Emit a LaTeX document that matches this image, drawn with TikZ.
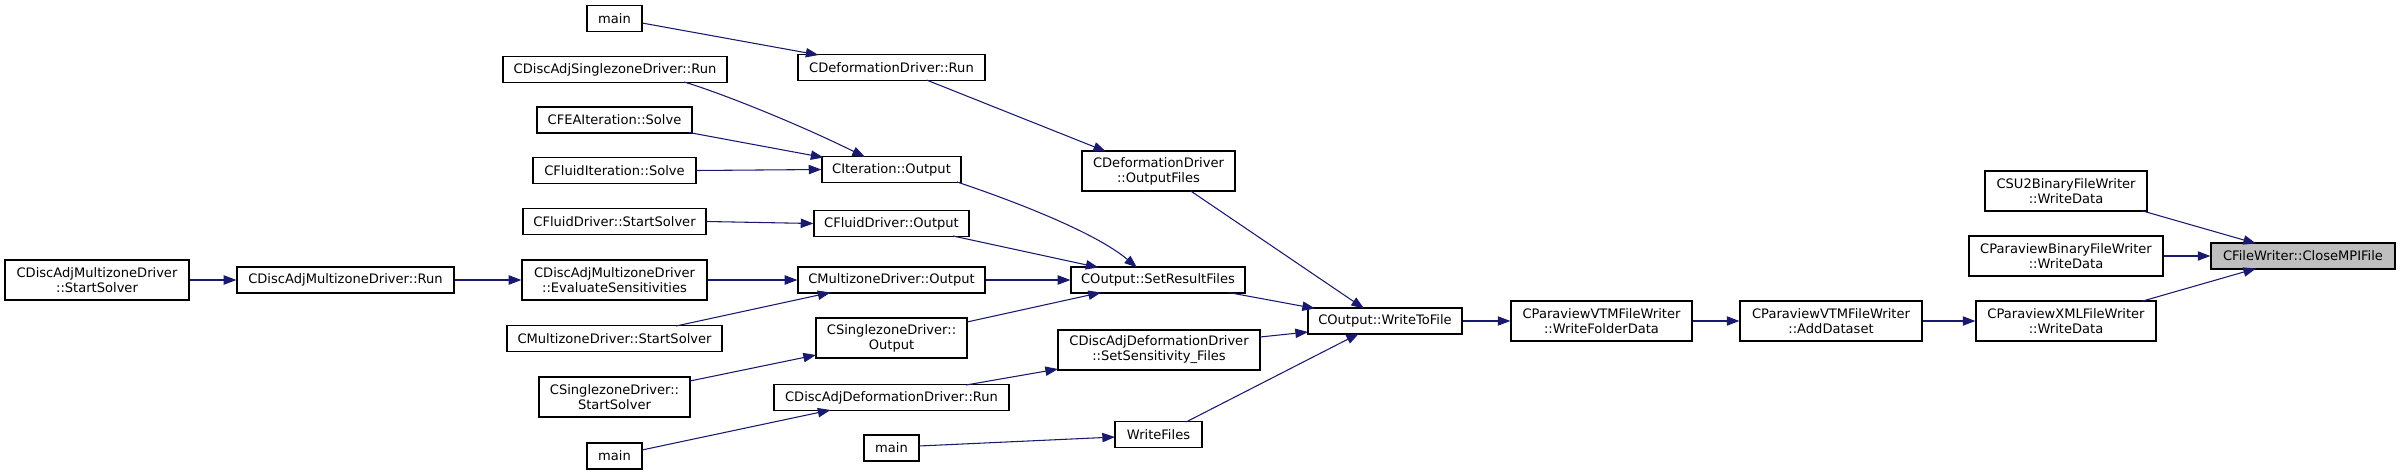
\documentclass[tikz,border=0pt]{standalone}
\usepackage{fontspec}
\setmainfont{DejaVu Sans}
\usetikzlibrary{arrows.meta,calc}
\definecolor{edgecol}{HTML}{191970}
\definecolor{curfill}{HTML}{BFBFBF}
\begin{document}
\begin{tikzpicture}[x=0.75pt,y=-0.75pt,
  box/.style={draw=black,line width=0.9pt,fill=white,inner sep=0pt,align=center,
    font=\fontsize{9.8pt}{11.25pt}\selectfont},
  one/.style={box,minimum height=26*0.75pt},
  two/.style={box,minimum height=40*0.75pt},
  cur/.style={one,fill=curfill},
  edge/.style={draw=edgecol,line width=0.8pt,-{Triangle[length=9.5pt,width=7pt]}}]
\useasboundingbox (0,0) rectangle (2405,475);
% nodes
\node[one,minimum width=55*0.75pt] (main1) at (614.5,18.5) {main};
\node[one,minimum width=224*0.75pt] (dasr) at (615,69.5) {CDiscAdjSinglezoneDriver::Run};
\node[one,minimum width=155*0.75pt] (feasolve) at (614.5,120) {CFEAIteration::Solve};
\node[one,minimum width=163*0.75pt] (fluiditsolve) at (614.5,170.5) {CFluidIteration::Solve};
\node[one,minimum width=183*0.75pt] (fdstart) at (614.5,221.5) {CFluidDriver::StartSolver};
\node[two,minimum width=184*0.75pt] (damdstart) at (97,280) {CDiscAdjMultizoneDriver\\::StartSolver};
\node[one,minimum width=217*0.75pt] (damdrun) at (345.5,280) {CDiscAdjMultizoneDriver::Run};
\node[two,minimum width=185*0.75pt] (evalsens) at (614.5,280) {CDiscAdjMultizoneDriver\\::EvaluateSensitivities};
\node[one,minimum width=215*0.75pt] (mzdstart) at (614.5,338.5) {CMultizoneDriver::StartSolver};
\node[two,minimum width=151*0.75pt] (szdstart) at (614.5,397) {CSinglezoneDriver::\\StartSolver};
\node[one,minimum width=55*0.75pt] (main2) at (614.5,456) {main};
\node[one,minimum width=187*0.75pt] (defrun) at (891.5,67.5) {CDeformationDriver::Run};
\node[one,minimum width=139*0.75pt] (itout) at (891.5,169.5) {CIteration::Output};
\node[one,minimum width=155*0.75pt] (fdout) at (891.5,223.5) {CFluidDriver::Output};
\node[one,minimum width=187*0.75pt] (mzdout) at (891.5,280) {CMultizoneDriver::Output};
\node[two,minimum width=151*0.75pt] (szdout) at (891.5,338) {CSinglezoneDriver::\\Output};
\node[one,minimum width=235*0.75pt] (dadrun) at (891.5,397.5) {CDiscAdjDeformationDriver::Run};
\node[one,minimum width=55*0.75pt] (main3) at (891.5,448) {main};
\node[two,minimum width=153*0.75pt] (outfiles) at (1158.5,171) {CDeformationDriver\\::OutputFiles};
\node[one,minimum width=174*0.75pt] (setres) at (1158,280) {COutput::SetResultFiles};
\node[two,minimum width=202*0.75pt] (setsens) at (1159,350) {CDiscAdjDeformationDriver\\::SetSensitivity\_Files};
\node[one,minimum width=87*0.75pt] (writefiles) at (1158.5,434.5) {WriteFiles};
\node[one,minimum width=154*0.75pt] (wtf) at (1385,321) {COutput::WriteToFile};
\node[two,minimum width=181*0.75pt] (folder) at (1601.5,321) {CParaviewVTMFileWriter\\::WriteFolderData};
\node[two,minimum width=182*0.75pt] (adddata) at (1831,321) {CParaviewVTMFileWriter\\::AddDataset};
\node[two,minimum width=180*0.75pt] (xml) at (2066,321) {CParaviewXMLFileWriter\\::WriteData};
\node[two,minimum width=162*0.75pt] (su2) at (2066,191) {CSU2BinaryFileWriter\\::WriteData};
\node[two,minimum width=194*0.75pt] (pvbin) at (2066,256) {CParaviewBinaryFileWriter\\::WriteData};
\node[cur,minimum width=184*0.75pt] (close) at (2303,256) {CFileWriter::CloseMPIFile};
% edges
\draw[edge] ($(main1)+(27.5,4.5)$) -- ($(defrun)+(-73,-12.5)$);
\draw[edge] ($(dasr)+(69,12.5)$) .. controls (712,90) and (790,120) .. ($(itout)+(-26.5,-12.5)$);
\draw[edge] ($(feasolve)+(74.5,12.5)$) -- ($(itout)+(-68,-12)$);
\draw[edge] (fluiditsolve.east) -- (itout.west);
\draw[edge] (fdstart.east) -- (fdout.west);
\draw[edge] (damdstart.east) -- (damdrun.west);
\draw[edge] (damdrun.east) -- (evalsens.west);
\draw[edge] (evalsens.east) -- (mzdout.west);
\draw[edge] ($(mzdstart)+(61.5,-12.5)$) -- ($(mzdout)+(-61,12.5)$);
\draw[edge] ($(szdstart)+(75.5,-16)$) -- ($(szdout)+(-75.5,17)$);
\draw[edge] ($(main2)+(27.5,-6)$) -- ($(dadrun)+(-61,12.5)$);
\draw[edge] ($(defrun)+(35,12.5)$) -- ($(outfiles)+(-52.5,-19.5)$);
\draw[edge] ($(itout)+(65.5,12.5)$) .. controls (990,193) and (1090,228) .. ($(setres)+(-21,-12.5)$);
\draw[edge] ($(fdout)+(61.5,12.5)$) -- ($(setres)+(-59.5,-12.5)$);
\draw[edge] (mzdout.east) -- (setres.west);
\draw[edge] ($(szdout)+(75.5,-16)$) -- ($(setres)+(-57,12.5)$);
\draw[edge] ($(dadrun)+(74.5,-12.5)$) -- ($(setsens)+(-101,19)$);
\draw[edge] ($(main3)+(27.5,-2)$) -- ($(writefiles)+(-43.5,2.5)$);
\draw[edge] ($(outfiles)+(31.5,19.5)$) -- ($(wtf)+(-21,-12.5)$);
\draw[edge] ($(setres)+(70.5,12.5)$) -- ($(wtf)+(-70,-12.5)$);
\draw[edge] ($(setsens)+(101,-13)$) -- ($(wtf)+(-77,11)$);
\draw[edge] ($(writefiles)+(27.5,-12.5)$) -- ($(wtf)+(-26,12.5)$);
\draw[edge] (wtf.east) -- (folder.west);
\draw[edge] (folder.east) -- (adddata.west);
\draw[edge] (adddata.east) -- (xml.west);
\draw[edge] ($(su2)+(75,19.5)$) -- ($(close)+(-47,-12.5)$);
\draw[edge] (pvbin.east) -- (close.west);
\draw[edge] ($(xml)+(75,-19.5)$) -- ($(close)+(-47,12.5)$);
\end{tikzpicture}
\end{document}
